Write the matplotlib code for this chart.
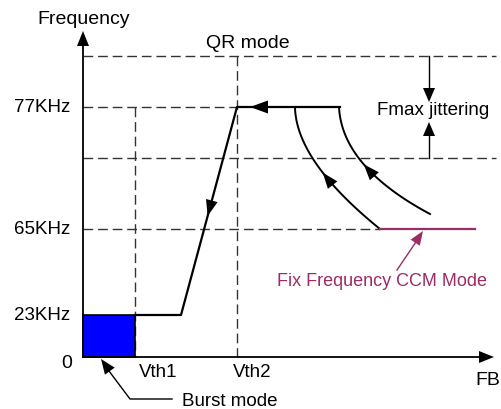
import numpy as np
import matplotlib.pyplot as plt
from matplotlib.patches import Polygon, Rectangle

plt.rcParams['font.family'] = ['Liberation Sans', 'DejaVu Sans']

# --- schematic coordinates (pixel-like space, y grows downward) ---
origin = (83, 358)
x_axis_end = 494
y_axis_top = 32

level_labels = ['0', '23KHz', '65KHz', '77KHz']
level_y = [358, 316, 230, 108]
jitter_top = 57
jitter_bottom = 159
line_right = 496

vth_labels = ['Vth1', 'Vth2']
vth_x = [135, 237]

# main frequency curve: burst -> flat 23KHz -> ramp -> QR 77KHz
main_x = [135, 181, 237, 340]
main_y = [316, 316, 108, 108]

# return curves (quadratic bezier: start, control, end)
curve_a = [(295, 108), (296, 162), (380, 230)]
curve_b = [(339, 108), (342, 168), (430, 215)]
ccm_x = [380, 475]
ccm_y = 230

MAGENTA = '#9b2c66'
GRAY = '#333333'
FS = 13.5

fig = plt.figure(figsize=(5.02, 4.10), dpi=100)
ax = fig.add_axes([0, 0, 1, 1])
ax.set_xlim(0, 502)
ax.set_ylim(410, 0)
ax.axis('off')


def head(tip, direction, length=15, half=5.5, color='black'):
    d = np.array(direction, float)
    d /= np.hypot(*d)
    n = np.array([-d[1], d[0]])
    tip = np.array(tip, float)
    base = tip - d * length
    ax.add_patch(Polygon([tip, base + n * half, base - n * half],
                         closed=True, color=color, lw=0, zorder=5))


def bezier(p, n=100):
    t = np.linspace(0, 1, n)[:, None]
    p0, c, p2 = (np.array(q, float) for q in p)
    return (1 - t) ** 2 * p0 + 2 * (1 - t) * t * c + t ** 2 * p2


def dashed(xs, ys):
    ax.plot(xs, ys, color=GRAY, lw=1.0, dashes=(7, 3.5), zorder=1)


# --- dashed guide lines ---
dashed([origin[0], line_right], [jitter_top, jitter_top])
dashed([origin[0], vth_x[1]], [level_y[3], level_y[3]])
dashed([origin[0], line_right], [jitter_bottom, jitter_bottom])
dashed([origin[0], ccm_x[0]], [level_y[2], level_y[2]])
dashed([vth_x[0], vth_x[0]], [level_y[3], origin[1]])
dashed([vth_x[1], vth_x[1]], [jitter_top, origin[1]])

# --- burst mode block ---
ax.add_patch(Rectangle((origin[0], level_y[1]), vth_x[0] - origin[0],
                       origin[1] - level_y[1], facecolor='#0000ff',
                       edgecolor='black', lw=1.2, zorder=3))

# --- axes with arrows ---
ax.plot([origin[0], x_axis_end - 12], [origin[1], origin[1]], color='black', lw=1.3, zorder=4)
head((x_axis_end, origin[1]), (1, 0), length=15, half=6)
ax.plot([origin[0], origin[0]], [origin[1], y_axis_top + 12], color='black', lw=1.3, zorder=4)
head((origin[0], y_axis_top), (0, -1), length=15, half=6)

# --- main curve ---
ax.plot(main_x, main_y, color='black', lw=1.6, zorder=4)
head((250, 108), (-1, 0), length=18, half=6.5)
ramp = np.array([main_x[1] - main_x[2], main_y[1] - main_y[2]], float)
t_r = (217 - main_y[2]) / (main_y[1] - main_y[2])
head((main_x[2] + ramp[0] * t_r, 217), ramp, length=16, half=6)

# --- return curves ---
for curve, tip_y in [(curve_a, 173), (curve_b, 165)]:
    pts = bezier(curve)
    ax.plot(pts[:, 0], pts[:, 1], color='black', lw=1.4, zorder=4)
    i = np.argmin(np.abs(pts[:, 1] - tip_y))
    head(pts[i], pts[i] - pts[i + 3], length=16, half=6)

# --- CCM line ---
ax.plot(ccm_x, [ccm_y, ccm_y], color=MAGENTA, lw=1.6, zorder=4)
ax.plot([397, 418], [271, 240], color=MAGENTA, lw=1.0, zorder=4)
head((423, 232), (423 - 397, 232 - 271), length=14, half=5.5, color=MAGENTA)
ax.text(382, 286, 'Fix Frequency CCM Mode', color=MAGENTA, fontsize=13,
        ha='center', va='baseline')

# --- Fmax jittering arrows ---
fj_x = 429
ax.plot([fj_x, fj_x], [jitter_top, 92], color='black', lw=1.0, zorder=4)
head((fj_x, 103), (0, 1), length=14, half=6)
ax.plot([fj_x, fj_x], [jitter_bottom, 134], color='black', lw=1.0, zorder=4)
head((fj_x, 123), (0, -1), length=14, half=6)
ax.text(433, 115, 'Fmax jittering', fontsize=FS, ha='center', va='baseline')

# --- burst mode callout ---
ax.plot([172, 130, 106], [400, 400, 368], color='black', lw=1.0, zorder=4)
head((101, 360), (101 - 130, 360 - 400), length=15, half=6)
ax.text(182, 406, 'Burst mode', fontsize=FS, ha='left', va='baseline')

# --- labels ---
for lab, y in zip(level_labels, level_y):
    if lab == '0':
        ax.text(67, 364, lab, fontsize=14, ha='center', va='center')
    else:
        ax.text(70, y, lab, fontsize=FS, ha='right', va='center')
ax.text(139, 377, vth_labels[0], fontsize=FS, ha='left', va='baseline')
ax.text(233, 377, vth_labels[1], fontsize=FS, ha='left', va='baseline')
ax.text(84, 24, 'Frequency', fontsize=14, ha='center', va='baseline')
ax.text(248, 48, 'QR mode', fontsize=14, ha='center', va='baseline')
ax.text(488, 385, 'FB', fontsize=14, ha='center', va='baseline')

fig.savefig('out.png', dpi=100)
